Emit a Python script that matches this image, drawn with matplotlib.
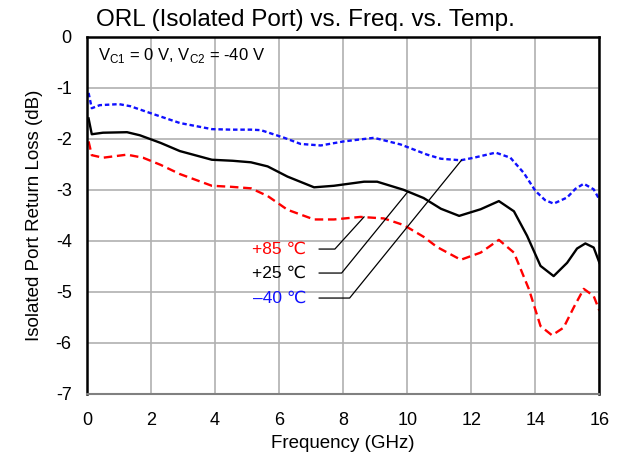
import matplotlib
matplotlib.use("Agg")
import matplotlib.pyplot as plt
import numpy as np

plt.rcParams['font.family'] = ['Liberation Sans', 'DejaVu Sans']
plt.rcParams['axes.unicode_minus'] = False

# frequency (GHz) / return loss (dB)
f_m40 = [0.05, 0.15, 0.4, 1.0, 1.35, 2.0, 2.9, 3.9, 4.5, 5.12, 5.43, 6.16, 6.67, 7.3, 8.02,
         8.96, 9.79, 10.62, 11.05, 11.67, 12.08, 12.76, 13.22, 13.64, 14.0, 14.3, 14.57,
         14.99, 15.25, 15.51, 15.82, 16.0]
rl_m40 = [-1.1, -1.4, -1.34, -1.32, -1.36, -1.5, -1.69, -1.81, -1.82, -1.82, -1.83, -1.98,
          -2.1, -2.13, -2.05, -1.98, -2.11, -2.31, -2.39, -2.42, -2.37, -2.27, -2.37, -2.67,
          -3.02, -3.2, -3.27, -3.15, -2.98, -2.88, -2.99, -3.19]

f_25 = [0.05, 0.15, 0.5, 1.25, 1.65, 2.3, 2.9, 3.9, 4.55, 5.12, 5.64, 6.26, 7.09, 7.71,
        8.65, 9.06, 9.89, 10.51, 11.05, 11.62, 12.29, 12.86, 13.33, 13.74, 14.16, 14.57,
        14.99, 15.3, 15.56, 15.82, 16.0]
rl_25 = [-1.6, -1.91, -1.88, -1.87, -1.93, -2.08, -2.24, -2.41, -2.43, -2.46, -2.54, -2.74,
         -2.95, -2.92, -2.84, -2.84, -3.0, -3.16, -3.37, -3.51, -3.38, -3.22, -3.42, -3.9,
         -4.49, -4.69, -4.43, -4.15, -4.05, -4.13, -4.43]

f_85 = [0.05, 0.15, 0.5, 1.25, 1.75, 2.3, 2.9, 3.9, 4.5, 5.12, 5.64, 6.26, 7.09, 7.71,
        8.54, 9.27, 9.89, 10.51, 10.93, 11.67, 12.29, 12.86, 13.33, 13.8, 14.16, 14.52,
        14.88, 15.2, 15.51, 15.82, 16.0]
rl_85 = [-2.05, -2.32, -2.37, -2.31, -2.37, -2.51, -2.69, -2.92, -2.94, -2.97, -3.12, -3.39,
         -3.58, -3.58, -3.53, -3.56, -3.69, -3.92, -4.12, -4.37, -4.23, -3.98, -4.23, -4.95,
         -5.67, -5.85, -5.7, -5.3, -4.94, -5.08, -5.37]

fig = plt.figure(figsize=(6.23, 4.54), dpi=100)
ax = fig.add_axes([0.1396, 0.1322, 0.8226, 0.7868])

ax.plot(f_m40, rl_m40, color='#1010ff', lw=1.7, ls=(0, (1.9, 1.2)))
ax.plot(f_25, rl_25, color='black', lw=1.7, ls='-')
ax.plot(f_85, rl_85, color='#ff0000', lw=1.7, ls=(0, (3.6, 2.0)))

ax.set_xlim(0, 16)
ax.set_ylim(-7, 0)
ax.set_xticks(np.arange(0, 17, 2))
ax.set_yticks(np.arange(-7, 1, 1))
ax.tick_params(length=0, labelsize=13)
ax.tick_params(axis='x', pad=13)
ax.tick_params(axis='y', pad=11)
ax.grid(True, color='#b0b0b0', lw=1.2)
ax.set_axisbelow(True)
for s in ['left', 'right', 'top']:
    ax.spines[s].set_color('black')
    ax.spines[s].set_linewidth(1.8)
ax.spines['bottom'].set_color('#808080')
ax.spines['bottom'].set_linewidth(1.5)

ax.set_xlabel('Frequency (GHz)', fontsize=13.5, labelpad=4)
ax.set_ylabel('Isolated Port Return Loss (dB)', fontsize=13.5, labelpad=9)
fig.suptitle('ORL (Isolated Port) vs. Freq. vs. Temp.', fontsize=17.5, x=0.49, y=0.98)

ax.text(0.35, -0.37, r'V$_{\mathregular{C1}}$ = 0 V, V$_{\mathregular{C2}}$ = -40 V',
        fontsize=12, va='center')

# leader annotations
labels = ['+85 \u2103', '+25 \u2103', '\u201340 \u2103']
colors = ['#ff0000', 'black', '#1010ff']
lab_y = [-4.16, -4.63, -5.12]
knee_x = [7.74, 7.95, 8.2]
tip = [(8.65, -3.53), (10.0, -3.05), (11.69, -2.42)]
for lab, c, y, kx, (tx, ty) in zip(labels, colors, lab_y, knee_x, tip):
    ax.plot([7.25, kx, tx], [y, y, ty], color='black', lw=0.9)
    ax.text(6.85, y, lab, color=c, fontsize=12.5, ha='right', va='center',
            family=['Liberation Sans', 'DejaVu Sans'])

fig.savefig('out.png', dpi=100)
